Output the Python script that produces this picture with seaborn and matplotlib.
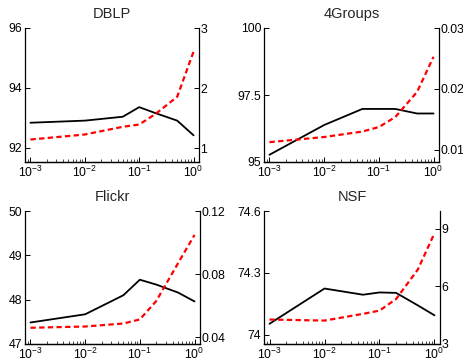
import matplotlib
matplotlib.use("Agg")
import matplotlib.pyplot as plt
import seaborn as sns
import pandas as pd
from matplotlib.ticker import FixedLocator, FixedFormatter, LogLocator

sns.set_theme(style="white")
plt.rcParams['font.family'] = ['Liberation Sans', 'DejaVu Sans']
plt.rcParams['mathtext.fontset'] = 'custom'
plt.rcParams['mathtext.rm'] = 'Liberation Sans'
plt.rcParams['mathtext.it'] = 'Liberation Sans'

x = [0.001, 0.01, 0.05, 0.1, 0.2, 0.5, 1.0]

titles = ["DBLP", "4Groups", "Flickr", "NSF"]

dblp_acc = [92.84, 92.91, 93.04, 93.36, 93.16, 92.91, 92.42]
dblp_time = [1.144, 1.228, 1.356, 1.394, 1.57, 1.856, 2.606]

groups_acc = [95.27, 96.38, 96.98, 96.98, 96.98, 96.81, 96.81]
groups_time = [0.01126, 0.0121, 0.0130, 0.01374, 0.01538, 0.0195, 0.02527]

flickr_acc = [47.485, 47.67, 48.10, 48.45, 48.34, 48.16, 47.96]
flickr_time = [0.0459, 0.0467, 0.0486, 0.0512, 0.0629, 0.0869, 0.1048]

nsf_acc = [74.053, 74.224, 74.194, 74.205, 74.203, 74.142, 74.094]
nsf_time = [4.275, 4.22, 4.57, 4.74, 5.34, 6.89, 8.78]

left_ticks = [[92, 94, 96], [95, 97.5, 100], [47, 48, 49, 50], [74, 74.3, 74.6]]
left_labels = [["92", "94", "96"], ["95", "97.5", "100"], ["47", "48", "49", "50"], ["74", "74.3", "74.6"]]
right_ticks = [[1, 2, 3], [0.01, 0.02, 0.03], [0.04, 0.08, 0.12], [3, 6, 9]]
right_labels = [["1", "2", "3"], ["0.01", "0.02", "0.03"], ["0.04", "0.08", "0.12"], ["3", "6", "9"]]
left_lims = [(91.53, 96), (95, 100), (47, 50), (73.955, 74.6)]
right_lims = [(0.77, 3), (0.008, 0.03), (0.0356, 0.12), (3, 9.93)]

accs = [dblp_acc, groups_acc, flickr_acc, nsf_acc]
times = [dblp_time, groups_time, flickr_time, nsf_time]

W, H = 464, 363
fig = plt.figure(figsize=(W / 100, H / 100), dpi=100)
boxes = [(25, 28, 199, 162), (264, 28, 439, 162), (25, 211, 200, 344), (264, 211, 440, 344)]

fs = 8.8
for i in range(4):
    l, t, r, b = boxes[i]
    ax = fig.add_axes([l / W, 1 - b / H, (r - l) / W, (b - t) / H])
    ax.set_facecolor("white")
    df = pd.DataFrame({"x": x, "acc": accs[i], "time": times[i]})
    sns.lineplot(data=df, x="x", y="acc", ax=ax, color="black", lw=1.3)
    ax2 = ax.twinx()
    sns.lineplot(data=df, x="x", y="time", ax=ax2, color="red", lw=1.6,
                 linestyle=(0, (2.4, 1.5)))
    ax.set_xscale("log")
    ax.set_xlim(10 ** -3.1, 10 ** 0.1)
    ax.set_ylim(*left_lims[i])
    ax2.set_ylim(*right_lims[i])
    ax.yaxis.set_major_locator(FixedLocator(left_ticks[i]))
    ax.yaxis.set_major_formatter(FixedFormatter(left_labels[i]))
    ax2.yaxis.set_major_locator(FixedLocator(right_ticks[i]))
    ax2.yaxis.set_major_formatter(FixedFormatter(right_labels[i]))
    ax.xaxis.set_major_locator(FixedLocator([1e-3, 1e-2, 1e-1, 1e0]))
    ax.xaxis.set_minor_locator(LogLocator(base=10, subs=range(2, 10)))
    ax.set_xlabel("")
    ax.set_ylabel("")
    ax2.set_ylabel("")
    ax.set_title(titles[i], fontsize=10.5, pad=7)
    for a in (ax, ax2):
        a.spines["top"].set_visible(False)
        for s in a.spines.values():
            s.set_color("black")
            s.set_linewidth(0.9)
        a.tick_params(axis="both", which="both", direction="in", labelsize=fs,
                      colors="black", pad=2)
        a.tick_params(which="major", length=3.5, width=0.7)
        a.tick_params(which="minor", length=2, width=0.5)
    ax.spines["right"].set_visible(False)
    ax2.spines["left"].set_visible(False)
    ax.tick_params(axis="y", which="both", right=False)
    ax.tick_params(axis="x", which="both", top=False, bottom=True)
    ax2.tick_params(axis="y", pad=1)

fig.savefig("out.png", dpi=100)
